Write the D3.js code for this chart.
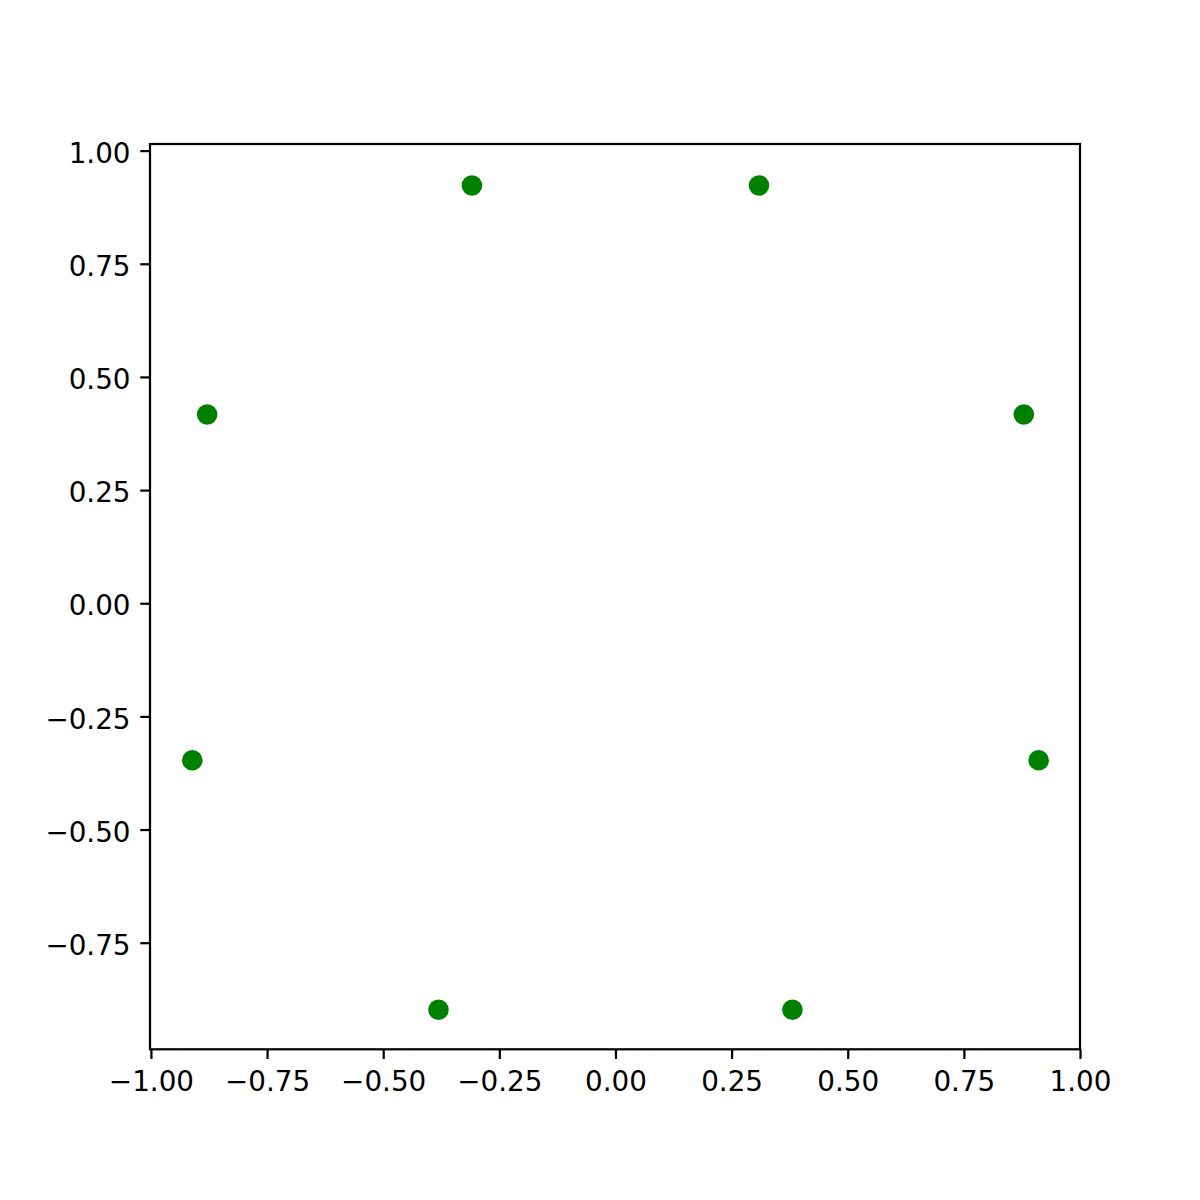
<!DOCTYPE html>
<html>
<head>
<meta charset="utf-8">
<script src="https://cdn.jsdelivr.net/npm/d3@7"></script>
<style>
  body { margin: 0; background: #fff; }
  svg { display: block; }
</style>
</head>
<body>
<svg id="chart" width="1200" height="1200"></svg>
<script>
// points
var xValues = [-0.309, 0.309, -0.879, 0.879, -0.911, 0.911, -0.381, 0.381];
var yValues = [0.923, 0.923, 0.417, 0.417, -0.347, -0.347, -0.898, -0.898];
var xTicks = [-1.00, -0.75, -0.50, -0.25, 0.00, 0.25, 0.50, 0.75, 1.00];
var yTicks = [-0.75, -0.50, -0.25, 0.00, 0.25, 0.50, 0.75, 1.00];

document.addEventListener("DOMContentLoaded", function(event) {
  var svg = d3.select("#chart"),
      left = 150, right = 1080, top = 144, bottom = 1049.3;

  svg.append("rect")
    .attr("width", 1200).attr("height", 1200)
    .attr("fill", "#ffffff");

  var x = d3.scaleLinear()
    .domain([-1.002, 1.0])
    .range([left, right]);

  var y = d3.scaleLinear()
    .domain([-0.9855, 1.0146])
    .range([bottom, top]);

  var fmt = d3.format(".2f");

  // x axis
  var gx = svg.append("g")
    .attr("transform", "translate(0," + bottom + ")")
    .call(d3.axisBottom(x).tickValues(xTicks).tickFormat(fmt).tickSizeOuter(0).tickSize(9.72).tickPadding(9.72));
  gx.select(".domain").remove();
  gx.selectAll(".tick line").attr("stroke", "#000").attr("stroke-width", 2.22);
  gx.selectAll(".tick text")
    .attr("y", 41.4).attr("dy", 0)
    .attr("fill", "#000")
    .style("font-family", "DejaVu Sans")
    .style("font-size", "27.8px");

  // y axis
  var gy = svg.append("g")
    .attr("transform", "translate(" + left + ",0)")
    .call(d3.axisLeft(y).tickValues(yTicks).tickFormat(fmt).tickSizeOuter(0).tickSize(9.72).tickPadding(9.72));
  gy.select(".domain").remove();
  gy.selectAll(".tick line").attr("stroke", "#000").attr("stroke-width", 2.22);
  gy.selectAll(".tick text")
    .attr("dy", "0.42em")
    .attr("fill", "#000")
    .style("font-family", "DejaVu Sans")
    .style("font-size", "27.8px");

  // frame
  svg.append("rect")
    .attr("x", left).attr("y", top)
    .attr("width", right - left).attr("height", bottom - top)
    .attr("fill", "none")
    .attr("stroke", "#000")
    .attr("stroke-width", 2.22);

  // points
  svg.selectAll("circle.pt")
    .data(xValues)
    .enter()
    .append("circle")
    .attr("class", "pt")
    .attr("cx", function(d) { return x(d); })
    .attr("cy", function(d, i) { return y(yValues[i]); })
    .attr("r", 10.3)
    .attr("fill", "#008000");
});
</script>
</body>
</html>
